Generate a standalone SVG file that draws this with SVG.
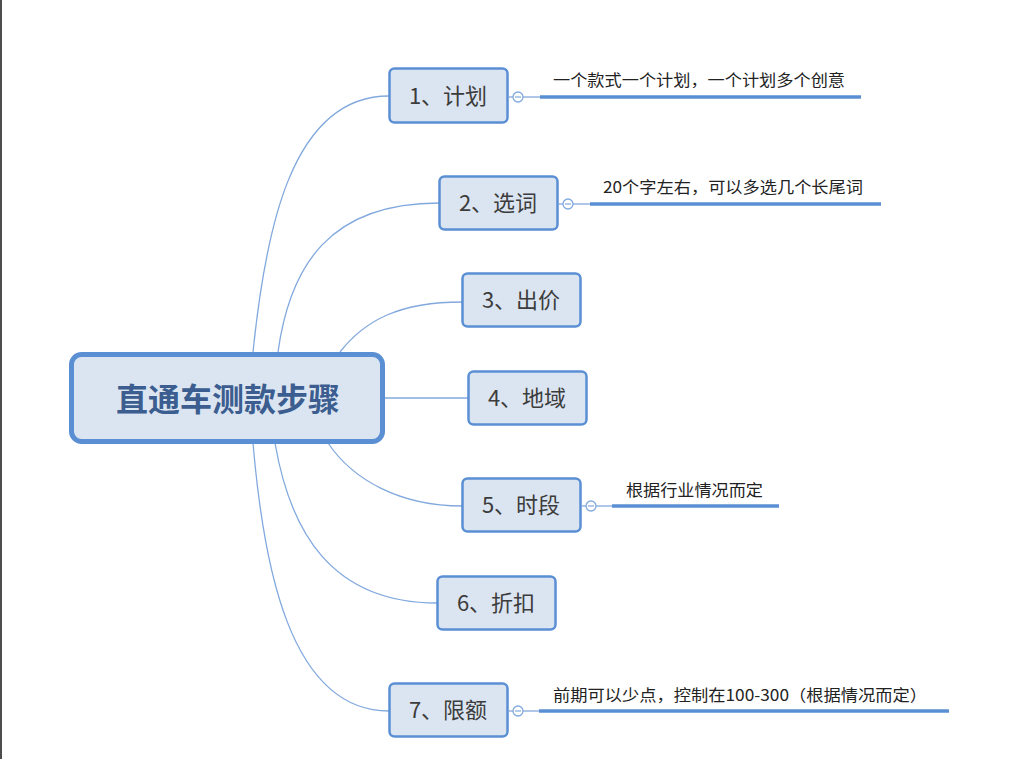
<svg xmlns="http://www.w3.org/2000/svg" width="1024" height="759" viewBox="0 0 1024 759">
<style>
.bg{fill:#ffffff}
.node rect{fill:#dbe5f1;stroke:#5b8fd4;stroke-width:2.5}
.node text{font-family:"Noto Sans CJK SC","Liberation Sans",sans-serif;font-size:22px;fill:#3c3c3c;text-anchor:middle}
#root rect{stroke-width:5}
#root text{font-size:32px;font-weight:bold;fill:#3b5d8f}
.conn path{fill:none;stroke:#82a9de;stroke-width:1.3}
.conn line.thin{stroke:#82a9de;stroke-width:1.3}
.note line{stroke:#5b8fd4;stroke-width:3.5}
.note circle{fill:#ffffff;stroke:#82a9de;stroke-width:1.3}
.note line.minus{stroke:#82a9de;stroke-width:1.2}
.note text{font-family:"Noto Sans CJK SC","Liberation Sans",sans-serif;font-size:16px;fill:#222222}
</style>
<rect class="bg" x="0" y="0" width="1024" height="759"/>
<rect x="0" y="0" width="2" height="759" fill="#4d4d4d"/>
<g id="connectors" class="conn">
<path d="M253,352 C265,235 290,96 389,96"/>
<path d="M278,352 C290,265 330,203 439,203"/>
<path d="M340,352 C365,320 400,302 462,302"/>
<line class="thin" x1="385" y1="398" x2="468" y2="398"/>
<path d="M328,443 C353,480 400,506 462,506"/>
<path d="M275,443 C290,530 330,603 437,603"/>
<path d="M253,443 C263,560 288,711 389,711"/>
</g>
<g id="root" class="node">
<rect x="71.5" y="354.5" width="311" height="87" rx="10"/>
<text x="228" y="411">直通车测款步骤</text>
</g>
<g id="n1" class="node">
<rect x="389.5" y="68.5" width="118" height="54" rx="5"/>
<text x="448" y="104">1、计划</text>
</g>
<g id="n2" class="node">
<rect x="439.5" y="176.5" width="118" height="53" rx="5"/>
<text x="498" y="211">2、选词</text>
</g>
<g id="n3" class="node">
<rect x="462.5" y="273.5" width="118" height="53" rx="5"/>
<text x="521" y="308">3、出价</text>
</g>
<g id="n4" class="node">
<rect x="468.5" y="371.5" width="118" height="53" rx="5"/>
<text x="527" y="406">4、地域</text>
</g>
<g id="n5" class="node">
<rect x="462.5" y="478.5" width="118" height="53" rx="5"/>
<text x="521" y="513">5、时段</text>
</g>
<g id="n6" class="node">
<rect x="437.5" y="576.5" width="118" height="53" rx="5"/>
<text x="496" y="611">6、折扣</text>
</g>
<g id="n7" class="node">
<rect x="389.5" y="683.5" width="118" height="53" rx="5"/>
<text x="448" y="718">7、限额</text>
</g>
<g id="note1" class="note">
<line x1="508" y1="97" x2="513" y2="97" style="stroke:#82a9de;stroke-width:1.3"/>
<circle cx="518" cy="97" r="5"/>
<line class="minus" x1="515" y1="97" x2="521" y2="97"/>
<line x1="523" y1="97" x2="540" y2="97" style="stroke:#82a9de;stroke-width:1.3"/>
<line x1="540" y1="97" x2="861" y2="97"/>
<text x="553" y="86" textLength="292" lengthAdjust="spacingAndGlyphs">一个款式一个计划，一个计划多个创意</text>
</g>
<g id="note2" class="note">
<line x1="558" y1="204" x2="563" y2="204" style="stroke:#82a9de;stroke-width:1.3"/>
<circle cx="568" cy="204" r="5"/>
<line class="minus" x1="565" y1="204" x2="571" y2="204"/>
<line x1="573" y1="204" x2="590" y2="204" style="stroke:#82a9de;stroke-width:1.3"/>
<line x1="590" y1="204" x2="881" y2="204"/>
<text x="603" y="193" textLength="260" lengthAdjust="spacingAndGlyphs">20个字左右，可以多选几个长尾词</text>
</g>
<g id="note5" class="note">
<line x1="581" y1="506" x2="586" y2="506" style="stroke:#82a9de;stroke-width:1.3"/>
<circle cx="591" cy="506" r="5"/>
<line class="minus" x1="588" y1="506" x2="594" y2="506"/>
<line x1="596" y1="506" x2="612" y2="506" style="stroke:#82a9de;stroke-width:1.3"/>
<line x1="612" y1="506" x2="779" y2="506"/>
<text x="626" y="496" textLength="137" lengthAdjust="spacingAndGlyphs">根据行业情况而定</text>
</g>
<g id="note7" class="note">
<line x1="508" y1="711" x2="513" y2="711" style="stroke:#82a9de;stroke-width:1.3"/>
<circle cx="518" cy="711" r="5"/>
<line class="minus" x1="515" y1="711" x2="521" y2="711"/>
<line x1="523" y1="711" x2="539" y2="711" style="stroke:#82a9de;stroke-width:1.3"/>
<line x1="539" y1="711" x2="949" y2="711"/>
<text x="553" y="701" textLength="374" lengthAdjust="spacingAndGlyphs">前期可以少点，控制在100-300（根据情况而定）</text>
</g>
</svg>
